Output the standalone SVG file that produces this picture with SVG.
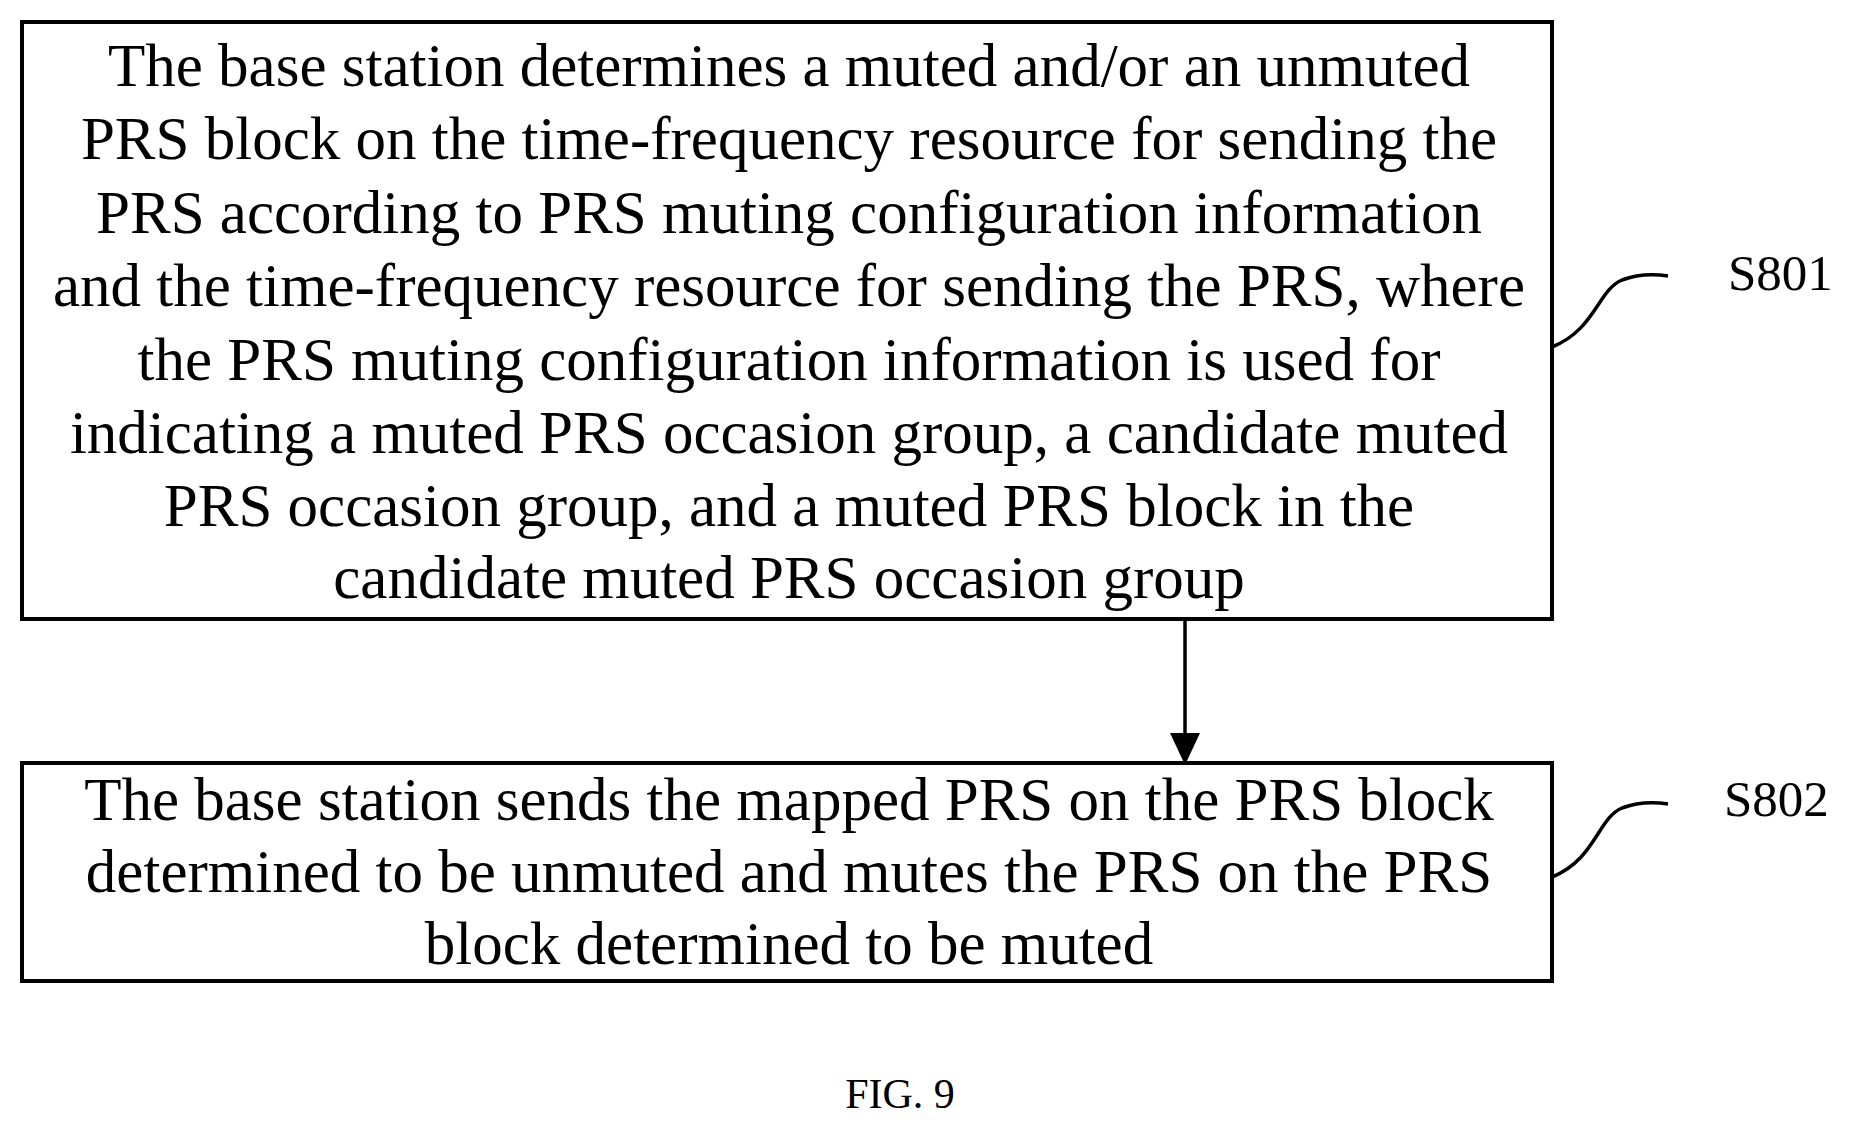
<svg xmlns="http://www.w3.org/2000/svg" width="1865" height="1136" viewBox="0 0 1865 1136">
<style>
.box{fill:#fff;stroke:#000;stroke-width:4}
.t{font-family:"Liberation Serif",serif;font-size:61px;text-anchor:middle;fill:#000}
.lbl{font-family:"Liberation Serif",serif;font-size:51px;fill:#000}
.c{fill:none;stroke:#000;stroke-width:3.5}
</style>
<rect width="1865" height="1136" fill="#fff"/>
<g id="S801">
<rect class="box" x="22" y="22" width="1530" height="597"/>
<text class="t" x="789" y="86">The base station determines a muted and/or an unmuted</text>
<text class="t" x="789" y="159">PRS block on the time-frequency resource for sending the</text>
<text class="t" x="789" y="233">PRS according to PRS muting configuration information</text>
<text class="t" x="789" y="306">and the time-frequency resource for sending the PRS, where</text>
<text class="t" x="789" y="380">the PRS muting configuration information is used for</text>
<text class="t" x="789" y="453">indicating a muted PRS occasion group, a candidate muted</text>
<text class="t" x="789" y="526">PRS occasion group, and a muted PRS block in the</text>
<text class="t" x="789" y="598">candidate muted PRS occasion group</text>
</g>
<g id="S802">
<rect class="box" x="22" y="763" width="1530" height="218"/>
<text class="t" x="789" y="820">The base station sends the mapped PRS on the PRS block</text>
<text class="t" x="789" y="892">determined to be unmuted and mutes the PRS on the PRS</text>
<text class="t" x="789" y="964">block determined to be muted</text>
</g>
<g id="labels">
<text class="lbl" x="1728" y="290">S801</text>
<text class="lbl" x="1724" y="816">S802</text>
<text font-family="Liberation Serif,serif" font-size="42" text-anchor="middle" x="900" y="1108">FIG. 9</text>
</g>
<g id="connectors">
<line class="c" x1="1185" y1="619" x2="1185" y2="735"/>
<polygon points="1170,733 1200,733 1185,765" fill="#000"/>
<path class="c" d="M1552,347 C1595,330 1598,290 1622,280 C1638,274 1655,274 1668,276"/>
<path class="c" d="M1552,877 C1595,860 1598,818 1622,808 C1638,802 1655,802 1668,804"/>
</g>
</svg>
